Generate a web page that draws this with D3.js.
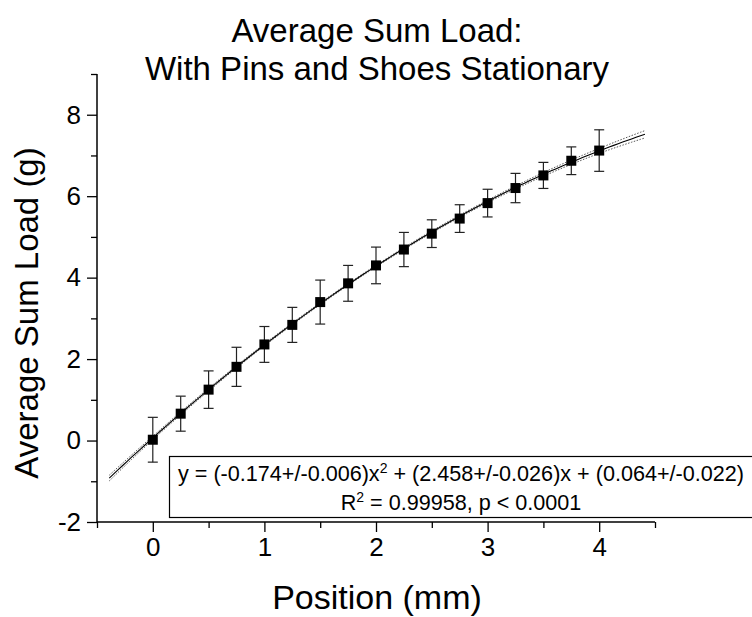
<!DOCTYPE html>
<html>
<head>
<meta charset="utf-8">
<script src="https://cdn.jsdelivr.net/npm/d3@7"></script>
<style>
  html, body { margin: 0; padding: 0; background: #fff; }
  svg { display: block; font-family: Arial, "Liberation Sans", Helvetica, sans-serif; }
</style>
</head>
<body>
<svg id="chart" width="752" height="617"></svg>
<script>
// ---- data ----
const positions = [0, 0.25, 0.5, 0.75, 1, 1.25, 1.5, 1.75, 2, 2.25, 2.5, 2.75, 3, 3.25, 3.5, 3.75, 4];
const loads     = [0.02, 0.66, 1.25, 1.81, 2.36, 2.84, 3.40, 3.86, 4.30, 4.69, 5.08, 5.45, 5.83, 6.20, 6.51, 6.87, 7.12];
const loadErr   = [0.55, 0.43, 0.46, 0.48, 0.44, 0.43, 0.54, 0.44, 0.45, 0.42, 0.34, 0.34, 0.34, 0.36, 0.32, 0.34, 0.51];
// quadratic fit coefficients shown in the chart: a x^2 + b x + c
const fitCoef   = [-0.174, 2.458, 0.064];
const fitRange  = [-0.39, 4.41];
// 95% confidence band half-widths
const bandX     = [-0.39, 0, 1, 2, 3, 4, 4.41];
const bandHalf  = [0.07, 0.04, 0.025, 0.02, 0.03, 0.06, 0.09];
const yTicks    = [-2, 0, 2, 4, 6, 8];
const yMinor    = [-1, 1, 3, 5, 7, 9];
const xTicks    = [0, 1, 2, 3, 4];
const xMinor    = [-0.5, 0.5, 1.5, 2.5, 3.5, 4.5];
const titleLines = ["Average Sum Load:", "With Pins and Shoes Stationary"];
const xLabel = "Position (mm)";
const yLabel = "Average Sum Load (g)";

const svg = d3.select("#chart");
const x = d3.scaleLinear().domain([-0.5, 4.5]).range([97, 655]);
const y = d3.scaleLinear().domain([-2, 9]).range([522, 74]);
const fit = v => fitCoef[0] * v * v + fitCoef[1] * v + fitCoef[2];
const fmt = d => String(d); // plain hyphen-minus like the reference

// title
svg.append("g").selectAll("text").data(titleLines).join("text")
  .attr("x", 377).attr("y", (d, i) => 42 + i * 38)
  .attr("text-anchor", "middle").attr("font-size", 33).attr("fill", "#000")
  .text(d => d);

// axes
const axisL = svg.append("g").attr("transform", `translate(${x.range()[0]},0)`);
axisL.call(d3.axisLeft(y).tickValues(yMinor).tickSize(6).tickFormat(""));
axisL.append("g").call(d3.axisLeft(y).tickValues(yTicks).tickSize(10).tickPadding(6).tickFormat(fmt));
const axisB = svg.append("g").attr("transform", `translate(0,${y.range()[0]})`);
axisB.call(d3.axisBottom(x).tickValues(xMinor).tickSize(6).tickFormat(""));
axisB.append("g").call(d3.axisBottom(x).tickValues(xTicks).tickSize(10).tickPadding(6).tickFormat(fmt));
svg.selectAll(".domain").remove();
svg.append("line").attr("x1", x(-0.5)).attr("x2", x(-0.5)).attr("y1", y(9)).attr("y2", y(-2)).attr("stroke", "#000").attr("stroke-width", 1.5);
svg.append("line").attr("x1", x(-0.5)).attr("x2", x(4.5)).attr("y1", y(-2)).attr("y2", y(-2)).attr("stroke", "#000").attr("stroke-width", 1.5);
svg.selectAll(".tick line").attr("stroke", "#000").attr("stroke-width", 1.3);
svg.selectAll(".tick text").attr("font-size", 26).attr("fill", "#000").attr("font-family", "Arial, 'Liberation Sans', sans-serif");

// axis labels
svg.append("text").attr("x", 377).attr("y", 609).attr("text-anchor", "middle")
  .attr("font-size", 34).attr("fill", "#000").text(xLabel);
svg.append("text").attr("transform", "translate(38,313) rotate(-90)").attr("text-anchor", "middle")
  .attr("font-size", 33).attr("fill", "#000").text(yLabel);

// fit curve + confidence band
const nS = 120;
const xs = d3.range(nS + 1).map(i => fitRange[0] + (fitRange[1] - fitRange[0]) * i / nS);
const half = d3.scaleLinear().domain(bandX).range(bandHalf);
const line = d3.line().x(d => x(d[0])).y(d => y(d[1]));
[1, -1].forEach(s => {
  svg.append("path").attr("d", line(xs.map(v => [v, fit(v) + s * half(v)])))
    .attr("fill", "none").attr("stroke", "#555").attr("stroke-width", 1).attr("stroke-dasharray", "1.5,1.5");
});
svg.append("path").attr("d", line(xs.map(v => [v, fit(v)])))
  .attr("fill", "none").attr("stroke", "#000").attr("stroke-width", 1.1);

// error bars
const eb = svg.append("g").attr("stroke", "#222").attr("stroke-width", 1.2);
positions.forEach((p, i) => {
  const cx = x(p), top = y(loads[i] + loadErr[i]), bot = y(loads[i] - loadErr[i]);
  eb.append("line").attr("x1", cx).attr("x2", cx).attr("y1", top).attr("y2", bot);
  eb.append("line").attr("x1", cx - 5).attr("x2", cx + 5).attr("y1", top).attr("y2", top);
  eb.append("line").attr("x1", cx - 5).attr("x2", cx + 5).attr("y1", bot).attr("y2", bot);
});

// markers
svg.append("g").selectAll("rect").data(positions).join("rect")
  .attr("x", d => x(d) - 5).attr("y", (d, i) => y(loads[i]) - 5)
  .attr("width", 10).attr("height", 10).attr("fill", "#000");

// fit annotation box
svg.append("rect").attr("x", 169.5).attr("y", 456.5).attr("width", 600).attr("height", 61)
  .attr("fill", "#fff").attr("stroke", "#000").attr("stroke-width", 1.2);
const t1 = svg.append("text").attr("x", 461).attr("y", 481).attr("text-anchor", "middle")
  .attr("font-size", 21.6).attr("fill", "#000");
t1.append("tspan").text(`y = (${fitCoef[0].toFixed(3)}+/-0.006)x`);
t1.append("tspan").attr("dy", -8).attr("font-size", 14).text("2");
t1.append("tspan").attr("dy", 8).text(` + (${fitCoef[1].toFixed(3)}+/-0.026)x + (${fitCoef[2].toFixed(3)}+/-0.022)`);
const t2 = svg.append("text").attr("x", 461).attr("y", 510).attr("text-anchor", "middle")
  .attr("font-size", 21.6).attr("fill", "#000");
t2.append("tspan").text("R");
t2.append("tspan").attr("dy", -8).attr("font-size", 14).text("2");
t2.append("tspan").attr("dy", 8).text(" = 0.99958, p < 0.0001");
</script>
</body>
</html>
